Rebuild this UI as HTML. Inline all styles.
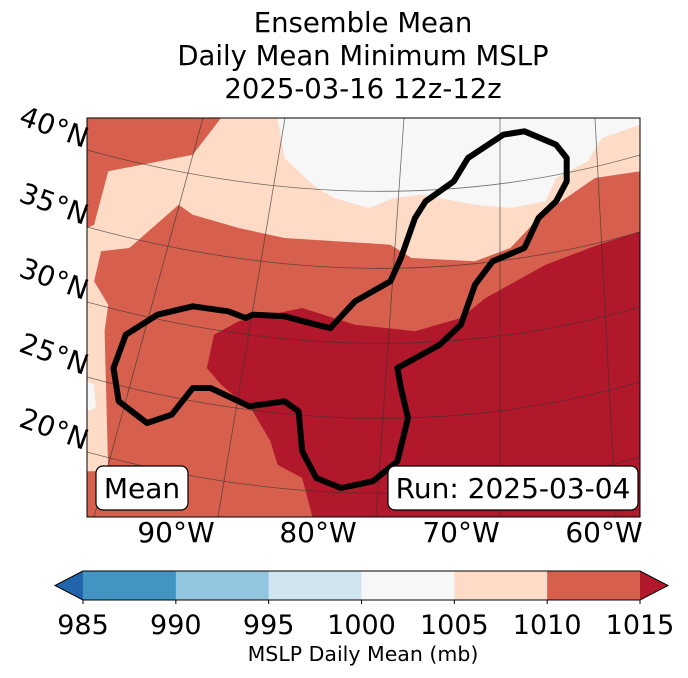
<!DOCTYPE html>
<html><head><meta charset="utf-8"><style>
body{margin:0;background:#fff;width:688px;height:674px;overflow:hidden;font-family:"DejaVu Sans","Liberation Sans",sans-serif}
svg text{font-family:"DejaVu Sans","Liberation Sans",sans-serif}
</style></head><body>
<svg id="s" width="688" height="674" viewBox="0 0 688 674">
<g font-size="27.5" text-anchor="middle" fill="#000">
<text x="363" y="32">Ensemble Mean</text>
<text x="363" y="65">Daily Mean Minimum MSLP</text>
<text x="363" y="98">2025-03-16 12z-12z</text>
</g>
<defs><clipPath id="mc"><rect x="87" y="118" width="553" height="399"/></clipPath></defs>
<g id="map" clip-path="url(#mc)"></g>
<rect x="87" y="118" width="553" height="399" fill="none" stroke="#000" stroke-width="1"/>
<g id="lat" font-size="28"></g>
<g id="lon" font-size="28" text-anchor="middle"></g>
<g>
<rect x="96" y="466" width="92" height="44" rx="7" fill="#fff" stroke="#000" stroke-width="1.2"/>
<text x="142" y="498" font-size="28" text-anchor="middle">Mean</text></g>
<g>
<rect x="388" y="466" width="250" height="44" rx="7" fill="#fff" stroke="#000" stroke-width="1.2"/>
<text x="513" y="498" font-size="28" text-anchor="middle">Run: 2025-03-04</text></g>
<g id="cb"></g>
<text x="363" y="661" font-size="20.5" text-anchor="middle">MSLP Daily Mean (mb)</text>
</svg>
<script>
const NS="http://www.w3.org/2000/svg";
const levels=[985,990,995,1000,1005,1010,1015];
const colors=["#4393c3","#92c5de","#d1e5f0","#f7f7f7","#fddbc7","#d6604d"];
const underColor="#2166ac", overColor="#b2182b";
const latLabels=["40°N","35°N","30°N","25°N","20°N"];
const lonLabels=["90°W","80°W","70°W","60°W"];
const peach=[[380,0],[1568,0],[1568,160],[1440,180],[1290,290],[1200,390],[1100,430],[920,420],[860,380],[560,360],[430,330],[300,290],[260,260],[120,390],[40,400],[20,490],[60,560],[50,640],[60,1060],[0,1060],[0,330],[20,320],[60,160],[300,110]];
const white=[[540,0],[1568,0],[1568,20],[1460,60],[1420,130],[1330,180],[1300,250],[1200,270],[1100,260],[950,230],[870,240],[800,270],[700,240],[640,200],[560,120]];
const whiteLeft=[[0,790],[20,800],[25,870],[0,880]];
const dark=[[1568,340],[1450,380],[1300,440],[1130,540],[1060,600],[930,640],[760,620],[610,570],[430,610],[360,650],[340,750],[380,800],[470,880],[520,970],[540,1040],[610,1080],[640,1200],[1568,1200]];
const contour=[[450,600],[400,580],[300,565],[200,590],[110,650],[75,750],[90,850],[170,915],[240,890],[300,810],[350,810],[460,865],[560,850],[600,880],[610,1000],[650,1080],[720,1110],[810,1090],[880,1030],[910,900],[890,810],[880,750],[1000,680],[1060,620],[1100,500],[1150,430],[1240,390],[1280,300],[1330,250],[1360,190],[1360,120],[1330,80],[1240,40],[1180,50],[1080,120],[1040,190],[960,250],[930,300],[890,420],[860,490],[760,550],[690,630],[650,620],[560,595],[470,590]];
const ZX=2.835, ZY=3;
function pt(p){return (87+p[0]/ZX).toFixed(1)+","+(118+p[1]/ZY).toFixed(1);}
const map=document.getElementById('map');
function poly(pts,fill,name){const e=document.createElementNS(NS,'polygon');e.setAttribute('points',pts.map(pt).join(' '));e.setAttribute('fill',fill);


map.appendChild(e);return e;}
const bg=document.createElementNS(NS,'rect');bg.setAttribute('x',87);bg.setAttribute('y',118);bg.setAttribute('width',553);bg.setAttribute('height',400);bg.setAttribute('fill',colors[5]);


map.appendChild(bg);
poly(peach,colors[4],'mslp-1005-1010');
poly(white,colors[3],'mslp-1000-1005');
poly(whiteLeft,colors[3],'mslp-1000-1005-west');
poly(dark,overColor,'mslp-above-1015');
const latY=[150,227,302,377,452];
latY.forEach((y,i)=>{const p=document.createElementNS(NS,'path');
p.setAttribute('d',`M87,${y} Q380,${y+80} 640,${y+5}`);p.setAttribute('fill','none');p.setAttribute('stroke','#333');p.setAttribute('stroke-width','0.8');p.setAttribute('opacity','0.7');


map.appendChild(p);});
const lonB=[94,218,376,500,616],lonT=[203,285,404,500,595];
lonB.forEach((b,i)=>{const l=document.createElementNS(NS,'line');l.setAttribute('x1',b);l.setAttribute('y1',517);l.setAttribute('x2',lonT[i]);l.setAttribute('y2',118);l.setAttribute('stroke','#333');l.setAttribute('stroke-width','0.8');l.setAttribute('opacity','0.7');


map.appendChild(l);});
const c=document.createElementNS(NS,'polygon');c.setAttribute('points',contour.map(pt).join(' '));c.setAttribute('fill','none');c.setAttribute('stroke','#000');c.setAttribute('stroke-width','6');c.setAttribute('stroke-linejoin','round');


map.appendChild(c);
const latG=document.getElementById('lat');
latLabels.forEach((t,i)=>{const e=document.createElementNS(NS,'text');e.textContent=t;e.setAttribute('text-anchor','end');
e.setAttribute('transform',`translate(84,${latY[i]-2}) rotate(20)`);


latG.appendChild(e);});
const lonX=[176,318,461,604];
const lonG=document.getElementById('lon');
lonLabels.forEach((t,i)=>{const e=document.createElementNS(NS,'text');e.textContent=t;e.setAttribute('x',lonX[i]);e.setAttribute('y',542);


lonG.appendChild(e);});
const cb=document.getElementById('cb');
const x0=83,x1=640,y0=571,h=29,n=colors.length,w=(x1-x0)/n;
function add(tag,attrs,name){const e=document.createElementNS(NS,tag);for(const k in attrs)e.setAttribute(k,attrs[k]);


cb.appendChild(e);return e;}
colors.forEach((col,i)=>add('rect',{x:x0+i*w,y:y0,width:w+0.5,height:h,fill:col},'colorbar-segment'));
add('polygon',{points:`${x0},${y0} ${x0-28},${y0+h/2} ${x0},${y0+h}`,fill:underColor},'colorbar-under-arrow');
add('polygon',{points:`${x1},${y0} ${x1+28},${y0+h/2} ${x1},${y0+h}`,fill:overColor},'colorbar-over-arrow');
add('polygon',{points:`${x0},${y0} ${x0-28},${y0+h/2} ${x0},${y0+h} ${x1},${y0+h} ${x1+28},${y0+h/2} ${x1},${y0}`,fill:'none',stroke:'#000','stroke-width':1},'colorbar-outline');
levels.forEach((v,i)=>{add('line',{x1:x0+i*w,x2:x0+i*w,y1:y0+h,y2:y0+h+4,stroke:'#000'},'colorbar-tick');
const t=add('text',{x:x0+i*w,y:634,'font-size':27,'text-anchor':'middle'},'colorbar-tick-label');t.textContent=v;});
</script>
</body></html>
